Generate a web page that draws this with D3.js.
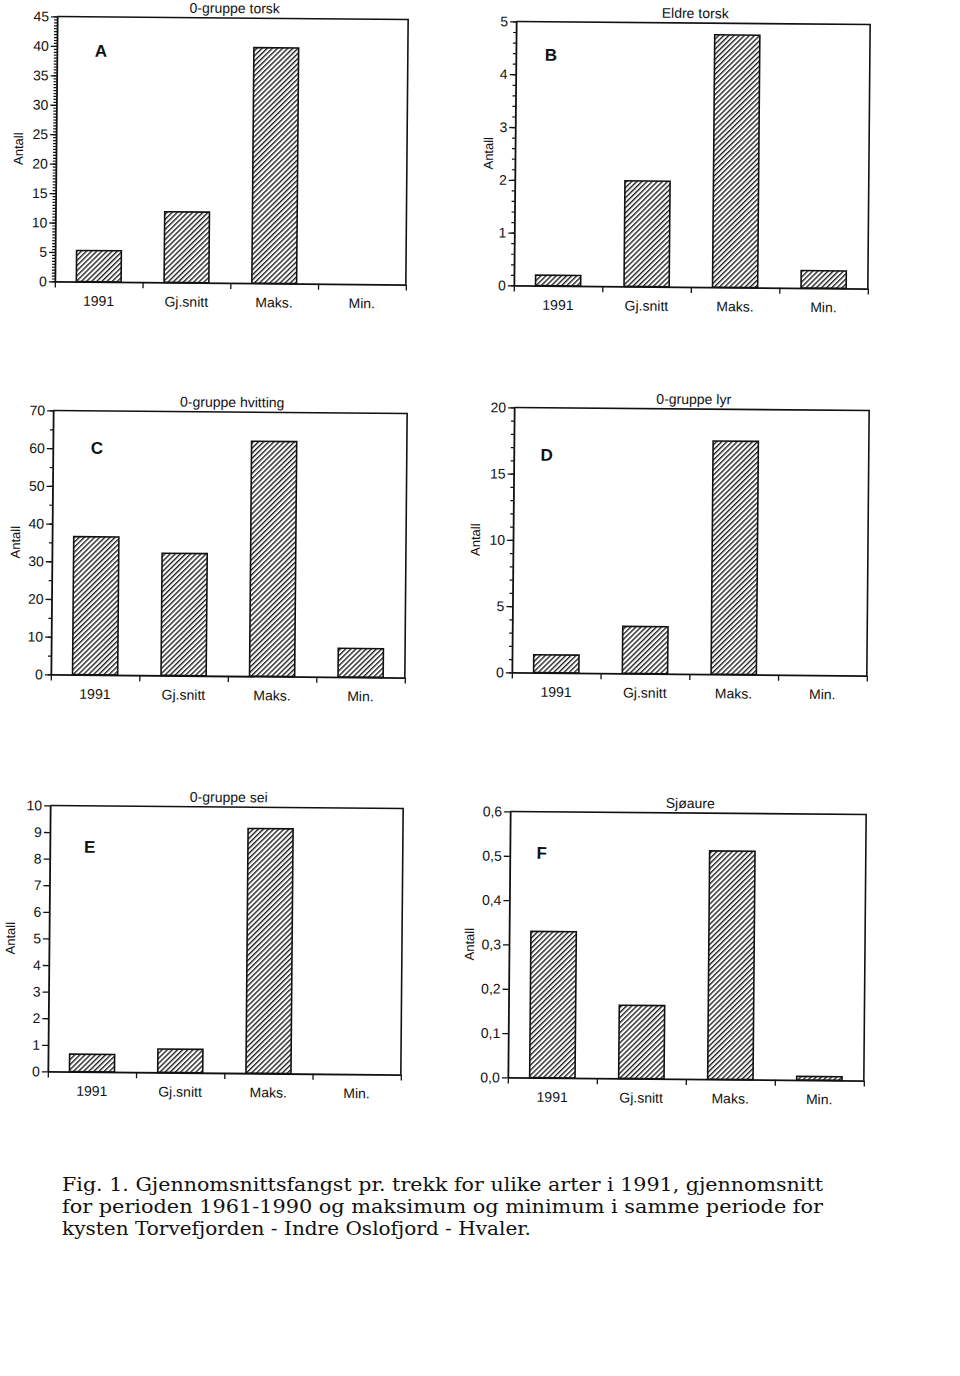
<!DOCTYPE html>
<html>
<head>
<meta charset="utf-8">
<script src="https://cdn.jsdelivr.net/npm/d3@7"></script>
<style>
  html, body { margin: 0; padding: 0; background: #fff; }
  svg { display: block; }
  .sans { font-family: "Liberation Sans", Arial, sans-serif; fill: #111; }
  .serif { font-family: "DejaVu Serif", "Liberation Serif", serif; fill: #111; }
</style>
</head>
<body>
<svg id="chart" width="960" height="1376"></svg>
<script>
// ---------- data ----------
const categories = ["1991", "Gj.snitt", "Maks.", "Min."];
const panelTitles = ["0-gruppe torsk", "Eldre torsk", "0-gruppe hvitting", "0-gruppe lyr", "0-gruppe sei", "Sjøaure"];
const panelLetters = ["A", "B", "C", "D", "E", "F"];
const valuesA = [5.3, 12.0, 40.0, 0.0];
const valuesB = [0.2, 2.0, 4.78, 0.33];
const valuesC = [36.6, 32.4, 62.3, 7.6];
const valuesD = [1.35, 3.55, 17.6, 0.0];
const valuesE = [0.66, 0.88, 9.2, 0.0];
const valuesF = [0.33, 0.165, 0.515, 0.008];
const yMaxes = [45, 5, 70, 20, 10, 0.6];
const majorSteps = [5, 1, 10, 5, 1, 0.1];
const minorSteps = [0.5, 0.2, 5, 1, null, null];
const yLabel = "Antall";
const captionLines = [
  "Fig. 1. Gjennomsnittsfangst pr. trekk for ulike arter i 1991, gjennomsnitt",
  "for perioden 1961-1990 og maksimum og minimum i samme periode for",
  "kysten Torvefjorden - Indre Oslofjord - Hvaler."
];
const allValues = [valuesA, valuesB, valuesC, valuesD, valuesE, valuesF];

// ---------- layout ----------
const layout = [
  { left: 56,  top: 18,  right: 407, bottom: 283, lx: 44, ly: 34, ax: -33 },
  { left: 515, top: 23,  right: 869, bottom: 287, lx: 35, ly: 33, ax: -22 },
  { left: 52,  top: 412, right: 406, bottom: 676, lx: 44, ly: 37, ax: -32 },
  { left: 513, top: 409, right: 868, bottom: 674, lx: 33, ly: 47, ax: -33 },
  { left: 49,  top: 807, right: 402, bottom: 1073, lx: 40, ly: 41, ax: -34 },
  { left: 509, top: 813, right: 865, bottom: 1079, lx: 32, ly: 41, ax: -35 }
];

const svg = d3.select("#chart");
const defs = svg.append("defs");
const pat = defs.append("pattern")
  .attr("id", "hatch")
  .attr("patternUnits", "userSpaceOnUse")
  .attr("width", 3.6).attr("height", 10)
  .attr("patternTransform", "rotate(45)");
pat.append("rect").attr("width", 3.6).attr("height", 10).attr("fill", "#fff");
pat.append("line")
  .attr("x1", 0.7).attr("y1", 0).attr("x2", 0.7).attr("y2", 10)
  .attr("stroke", "#111").attr("stroke-width", 1.3);

function range(step, max) {
  const n = Math.round(max / step);
  return d3.range(n + 1).map(i => +(i * step).toFixed(6));
}

allValues.forEach((vals, i) => {
  const L = layout[i];
  const w = L.right - L.left, h = L.bottom - L.top;
  const g = svg.append("g")
    .attr("transform", `translate(${L.left},${L.top}) rotate(0.5,${w / 2},${h / 2})`);

  const y = d3.scaleLinear().domain([0, yMaxes[i]]).range([h, 0]);
  const x = d3.scaleBand().domain(categories).range([0, w])
    .paddingInner(0.49).paddingOuter(0.245);
  const xl = d3.scaleLinear().domain([0, categories.length]).range([0, w]);

  // bars
  g.selectAll("rect.bar").data(vals).enter().append("rect")
    .attr("class", "bar")
    .attr("x", (d, j) => x(categories[j]))
    .attr("width", x.bandwidth())
    .attr("y", d => y(d))
    .attr("height", d => h - y(d))
    .attr("fill", "url(#hatch)")
    .attr("stroke", "#111").attr("stroke-width", 1.6);

  // frame (top + right)
  g.append("path")
    .attr("d", `M0,0H${w}V${h}`)
    .attr("fill", "none").attr("stroke", "#111").attr("stroke-width", 1.6);

  // minor y ticks
  if (minorSteps[i]) {
    const ma = g.append("g").call(
      d3.axisLeft(y).tickValues(range(minorSteps[i], yMaxes[i])).tickSize(3).tickFormat(""));
    ma.select(".domain").remove();
    ma.selectAll("line").attr("stroke", "#111").attr("stroke-width", 1.2);
  }
  // major y axis
  const fmt = majorSteps[i] < 1 ? (v => d3.format(".1f")(v).replace(".", ",")) : d3.format("d");
  const ya = g.append("g").call(
    d3.axisLeft(y).tickValues(range(majorSteps[i], yMaxes[i])).tickSize(6).tickPadding(2)
      .tickSizeOuter(0).tickFormat(fmt));
  ya.select(".domain").attr("stroke", "#111").attr("stroke-width", 1.8);
  ya.selectAll("line").attr("stroke", "#111").attr("stroke-width", 1.3);
  ya.selectAll("text").attr("class", "sans").attr("font-size", 14).attr("font-family", null);

  // x axis
  const xa = g.append("g").attr("transform", `translate(0,${h})`).call(
    d3.axisBottom(xl).tickValues(d3.range(categories.length + 1)).tickSize(6).tickSizeOuter(0).tickFormat(""));
  xa.select(".domain").attr("stroke", "#111").attr("stroke-width", 1.8);
  xa.selectAll("line").attr("stroke", "#111").attr("stroke-width", 1.3);

  // category labels
  g.selectAll("text.cat").data(categories).enter().append("text")
    .attr("class", "cat sans")
    .attr("x", d => x(d) + x.bandwidth() / 2)
    .attr("y", h + 24)
    .attr("text-anchor", "middle")
    .attr("font-size", 14)
    .text(d => d);

  // title
  g.append("text")
    .attr("class", "sans")
    .attr("x", w / 2 + 2).attr("y", -5)
    .attr("text-anchor", "middle").attr("font-size", 14)
    .text(panelTitles[i]);

  // letter
  g.append("text")
    .attr("class", "sans")
    .attr("x", L.lx).attr("y", L.ly + 6)
    .attr("text-anchor", "middle").attr("font-size", 17).attr("font-weight", "bold")
    .text(panelLetters[i]);

  // y label
  g.append("text")
    .attr("class", "sans")
    .attr("transform", `translate(${L.ax},${h / 2}) rotate(-90)`)
    .attr("text-anchor", "middle").attr("font-size", 13)
    .text(yLabel);
});

// caption
const capWidths = [761, 761, 469];
captionLines.forEach((t, i) => {
  svg.append("text")
    .attr("class", "serif")
    .attr("x", 62).attr("y", 1191 + i * 22)
    .attr("font-size", 18.5)
    .attr("textLength", capWidths[i])
    .attr("lengthAdjust", "spacingAndGlyphs")
    .text(t);
});
</script>
</body>
</html>
